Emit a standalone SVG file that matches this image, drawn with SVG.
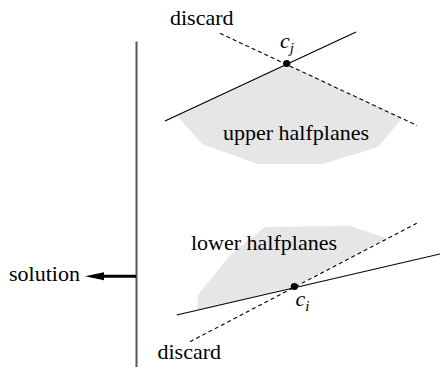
<svg xmlns="http://www.w3.org/2000/svg" width="440" height="369" viewBox="0 0 440 369">
<style>
text{font-size:22px;fill:#000}
.it{font-style:italic}
.region{fill:#e6e6e6;stroke:none}
.solid{stroke:#000;stroke-width:1.2;fill:none}
.dash{stroke:#000;stroke-width:1.1;fill:none;stroke-dasharray:4 3}
</style>
<rect width="440" height="369" fill="#fff"/>
<g id="upper-region">
<polygon class="region" points="177,115.5 287,64 402,118 378,147 323,164 258,164 202,144"/>
<text font-family="Liberation Serif, serif" x="223" y="140">upper halfplanes</text>
</g>
<g id="lower-region">
<polygon class="region" points="197,310.4 198,295 230,255 265,227 350,225.7 387,238.3 294.3,286.6"/>
<text font-family="Liberation Serif, serif" x="191" y="250">lower halfplanes</text>
</g>
<g id="connectors">
<line x1="136.5" y1="41.5" x2="136.5" y2="367" stroke="#555" stroke-width="2"/>
<line class="solid" x1="165" y1="121" x2="356" y2="32"/>
<line class="dash" x1="220" y1="33.3" x2="417" y2="125.5"/>
<line class="solid" x1="176.7" y1="315" x2="440" y2="254"/>
<line class="dash" x1="190" y1="341.7" x2="416.7" y2="223.3"/>
<line x1="136" y1="276.3" x2="100" y2="276.3" stroke="#000" stroke-width="3"/>
<polygon points="85,276.3 104,272.3 104,280.3" fill="#000"/>
</g>
<g id="cj">
<circle cx="286.7" cy="63.5" r="3.6" fill="#000"/>
<text font-family="Liberation Serif, serif" class="it" x="280" y="48">c<tspan font-size="15" dy="5">j</tspan></text>
</g>
<g id="ci">
<circle cx="294.3" cy="286.5" r="3.6" fill="#000"/>
<text font-family="Liberation Serif, serif" class="it" x="295.5" y="306">c<tspan font-size="15" dy="5">i</tspan></text>
</g>
<g id="labels">
<text font-family="Liberation Serif, serif" x="170" y="25">discard</text>
<text font-family="Liberation Serif, serif" x="157.5" y="359.3">discard</text>
<text font-family="Liberation Serif, serif" x="9" y="280.7">solution</text>
</g>
</svg>
